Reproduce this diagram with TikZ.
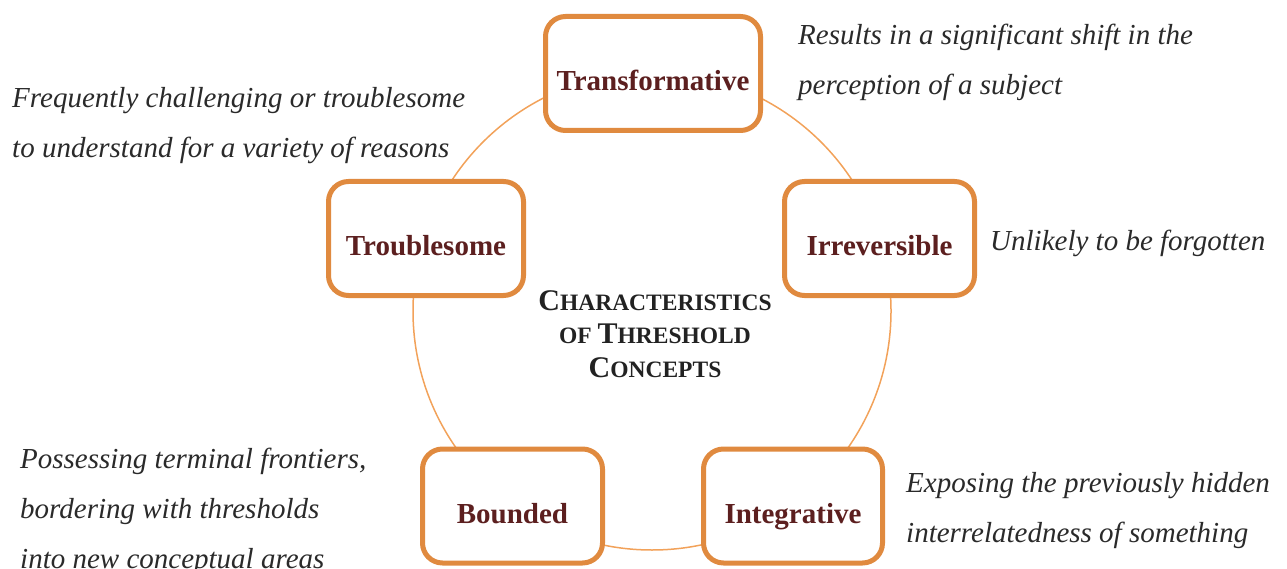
\documentclass[tikz,border=0pt]{standalone}
\usepackage{fontspec}
\setmainfont{Liberation Serif}
\definecolor{boxorange}{HTML}{E08A3F}
\definecolor{ringorange}{HTML}{F2A25A}
\definecolor{labelred}{HTML}{5C1F1F}
\definecolor{desctext}{HTML}{2A2A2A}
\definecolor{titletext}{HTML}{222222}
\newcommand{\bigc}[1]{{\fontsize{30}{33.5}\selectfont #1}}
\newcommand{\smc}[1]{{\fontsize{23.5}{33.5}\selectfont #1}}
\begin{document}
\begin{tikzpicture}[x=1pt,y=-1pt,
  charbox/.style={draw=boxorange, line width=5pt, rounded corners=20pt, fill=white,
    minimum height=114pt, inner sep=0pt, text height=34pt, text depth=0pt,
    text=labelred, font=\fontsize{29}{32}\selectfont\bfseries},
  desc/.style={anchor=base west, inner sep=0pt, text=desctext,
    font=\fontsize{29}{50}\selectfont\itshape},
  ring/.style={draw=ringorange, line width=1.5pt}]
\useasboundingbox (0,0) rectangle (1287,569);
\coordinate (ringc) at (652,311);
\draw[ring] (ringc) circle[radius=239pt];
\node[charbox, minimum width=215pt] (transf) at (653,73.5) {Transformative};
\node[charbox, minimum width=190pt] (irrev) at (879.5,238.5) {Irreversible};
\node[charbox, minimum width=179pt] (integ) at (793,506) {Integrative};
\node[charbox, minimum width=180pt] (bound) at (512.5,506) {Bounded};
\node[charbox, minimum width=195pt] (troub) at (426,238.5) {Troublesome};
\node[anchor=base, inner sep=0pt, text=titletext, font=\bfseries] (title) at (655,310)
  {\fontsize{30}{33.5}\selectfont\begin{tabular}[t]{@{}c@{}}
   \bigc{C}\smc{HARACTERISTICS}\\
   \smc{OF }\bigc{T}\smc{HRESHOLD}\\
   \bigc{C}\smc{ONCEPTS}
   \end{tabular}};
\node[desc] (dtransf) at (798,45) {\begin{tabular}[t]{@{}l@{}}Results in a significant shift in the\\perception of a subject\end{tabular}};
\node[desc] (dirrev) at (990,251) {Unlikely to be forgotten};
\node[desc] (dinteg) at (906,492) {\begin{tabular}[t]{@{}l@{}}Exposing the previously hidden\\interrelatedness of something\end{tabular}};
\node[desc] (dbound) at (20,468) {\begin{tabular}[t]{@{}l@{}}Possessing terminal frontiers,\\bordering with thresholds\\into new conceptual areas\end{tabular}};
\node[desc] (dtroub) at (12,108) {\begin{tabular}[t]{@{}l@{}}Frequently challenging or troublesome\\to understand for a variety of reasons\end{tabular}};
\end{tikzpicture}
\end{document}
